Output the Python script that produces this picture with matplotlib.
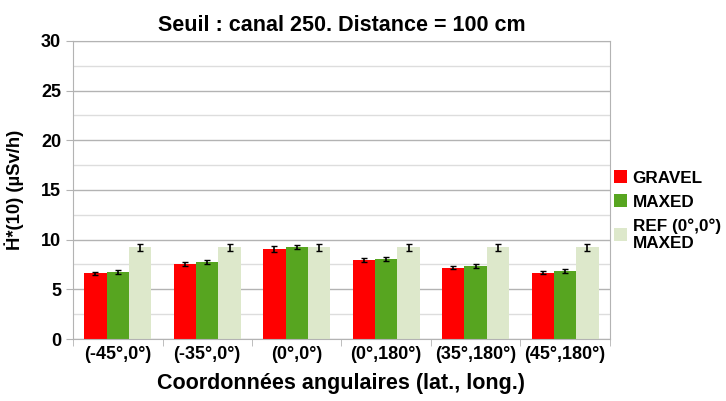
import numpy as np
import matplotlib.pyplot as plt
from matplotlib.ticker import MultipleLocator

plt.rcParams['font.family'] = ['Liberation Sans', 'DejaVu Sans']
plt.rcParams['font.weight'] = 'bold'

positions = ["(-45°,0°)", "(-35°,0°)", "(0°,0°)", "(0°,180°)", "(35°,180°)", "(45°,180°)"]
gravel = [6.6, 7.58, 9.06, 7.92, 7.18, 6.68]
gravel_err = [0.18, 0.2, 0.3, 0.2, 0.18, 0.18]
maxed = [6.72, 7.72, 9.22, 8.1, 7.3, 6.84]
maxed_err = [0.18, 0.2, 0.2, 0.2, 0.2, 0.18]
ref = [9.22, 9.22, 9.22, 9.22, 9.22, 9.22]
ref_err = [0.35, 0.35, 0.35, 0.35, 0.35, 0.35]

series = [("GRAVEL", gravel, gravel_err, "#ff0000"),
          ("MAXED", maxed, maxed_err, "#57a520"),
          ("REF (0°,0°)\nMAXED", ref, ref_err, "#dde8cb")]

fig = plt.figure(figsize=(7.26, 4.01), dpi=100)
ax = fig.add_axes([0.1006, 0.1546, 0.7394, 0.7432])

x = np.arange(len(positions))
w = 0.25
for i, (name, vals, err, col) in enumerate(series):
    ax.bar(x + (i - 1) * w, vals, w, color=col, label=name, zorder=2,
           yerr=err, error_kw=dict(ecolor="black", elinewidth=1.2, capsize=2, capthick=1))

ax.set_xlim(-0.5, len(positions) - 0.5)
ax.set_ylim(0, 30)
ax.yaxis.set_major_locator(MultipleLocator(5))
ax.yaxis.set_minor_locator(MultipleLocator(2.5))
ax.grid(axis="y", which="major", color="#b3b3b3", lw=1, zorder=0)
ax.grid(axis="y", which="minor", color="#dddddd", lw=1, zorder=0)
ax.set_axisbelow(True)

ax.set_xticks(x)
ax.set_xticklabels(positions, fontsize=13, fontweight="bold")
ax.set_xticks(np.arange(len(positions) + 1) - 0.5, minor=True)
ax.tick_params(axis="x", which="major", length=0, pad=5)
ax.tick_params(axis="x", which="minor", length=5, color="#b3b3b3")
ax.tick_params(axis="y", which="major", length=5, color="#b3b3b3", labelsize=13)
ax.tick_params(axis="y", which="minor", length=0)
for lab in ax.get_yticklabels():
    lab.set_fontweight("bold")
for s in ax.spines.values():
    s.set_color("#b3b3b3")

ax.set_title("Seuil : canal 250. Distance = 100 cm", fontsize=15.5, fontweight="bold", pad=7)
ax.set_xlabel("Coordonnées angulaires (lat., long.)", fontsize=15.5, fontweight="bold", labelpad=7)
ax.set_ylabel("\u1E22*(10) (µSv/h)", fontsize=13.3, fontweight="bold", labelpad=12)

ax.legend(loc="center left", bbox_to_anchor=(0.985, 0.43), frameon=False, fontsize=12.3,
          handlelength=0.8, handleheight=0.8, handletextpad=0.3, labelspacing=0.5,
          borderaxespad=0.3)

fig.savefig("out.png", dpi=100)
